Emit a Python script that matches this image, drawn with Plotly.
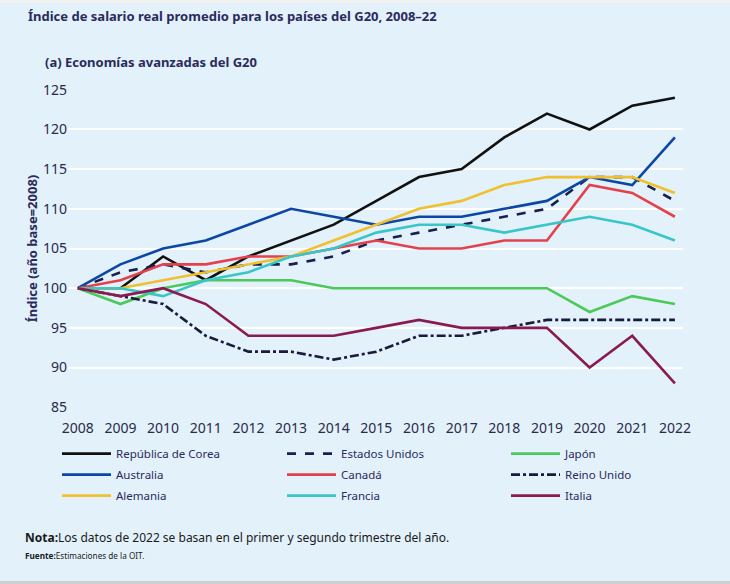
import plotly.graph_objects as go

years = list(range(2008, 2023))

korea     = [100, 100, 104, 101, 104, 106, 108, 111, 114, 115, 119, 122, 120, 123, 124]
usa       = [100, 102, 103, 102, 103, 103, 104, 106, 107, 108, 109, 110, 114, 114, 111]
japan     = [100, 98, 100, 101, 101, 101, 100, 100, 100, 100, 100, 100, 97, 99, 98]
australia = [100, 103, 105, 106, 108, 110, 109, 108, 109, 109, 110, 111, 114, 113, 119]
canada    = [100, 101, 103, 103, 104, 104, 105, 106, 105, 105, 106, 106, 113, 112, 109]
uk        = [100, 99, 98, 94, 92, 92, 91, 92, 94, 94, 95, 96, 96, 96, 96]
germany   = [100, 100, 101, 102, 103, 104, 106, 108, 110, 111, 113, 114, 114, 114, 112]
france    = [100, 100, 99, 101, 102, 104, 105, 107, 108, 108, 107, 108, 109, 108, 106]
italy     = [100, 99, 100, 98, 94, 94, 94, 95, 96, 95, 95, 95, 90, 94, 88]

y_ticks = [85, 90, 95, 100, 105, 110, 115, 120, 125]

# (name, values, colour, dash, legend column)
series = [
    ("República de Corea", korea, "#111111", "solid", "legend"),
    ("Estados Unidos", usa, "#17214f", "dash", "legend2"),
    ("Japón", japan, "#4cc95a", "solid", "legend3"),
    ("Australia", australia, "#0d47a5", "solid", "legend"),
    ("Canadá", canada, "#e5414d", "solid", "legend2"),
    ("Reino Unido", uk, "#1a1a3d", "dashdot", "legend3"),
    ("Alemania", germany, "#f0c02e", "solid", "legend"),
    ("Francia", france, "#3ac6c8", "solid", "legend2"),
    ("Italia", italy, "#8a1b50", "solid", "legend3"),
]

BG = "#e2f1fa"
TXT = "#2b2a5c"
FONT = "Noto Sans"
PW = 615.0
PH = 319.0

fig = go.Figure()
for name, vals, color, dash, leg in series:
    fig.add_trace(go.Scatter(
        x=years, y=vals, name=name, mode="lines", legend=leg, legendgroup=name,
        line=dict(color=color, width=2.6, dash=dash),
    ))

def legend_at(px):
    return dict(
        orientation="v", x=(px - 68) / PW, xanchor="left", y=-0.0975, yanchor="top",
        font=dict(family=FONT, size=11.5, color=TXT),
        tracegroupgap=2, itemwidth=49, bgcolor="rgba(0,0,0,0)",
    )

fig.update_layout(
    width=730, height=584,
    paper_bgcolor=BG, plot_bgcolor=BG,
    margin=dict(l=68, r=47, t=89, b=176),
    font=dict(family=FONT, color="#333333", size=14),
    showlegend=True,
    legend=legend_at(57),
    legend2=legend_at(282),
    legend3=legend_at(506),
)

fig.update_xaxes(
    range=[2007.77, 2022.19], tickmode="array", tickvals=years,
    ticktext=[str(y) for y in years], showgrid=False, zeroline=False,
    showline=False, ticks="", tickfont=dict(size=14, color="#2b2a4a"),
    ticklabelstandoff=10,
)
fig.update_yaxes(
    range=[84.9, 125.1], tickmode="array", tickvals=y_ticks,
    ticktext=[str(v) for v in y_ticks],
    showgrid=True, gridcolor="#ffffff", gridwidth=1.5, zeroline=False,
    showline=False, ticks="", tickfont=dict(size=14, color="#2b2a4a"),
    title=dict(text="<b>Índice (año base=2008)</b>", font=dict(size=13, color=TXT), standoff=2),
)

fig.add_annotation(
    text="<b>Índice de salario real promedio para los países del G20, 2008–22</b>",
    xref="paper", yref="paper", x=(26 - 68) / PW, y=1, xanchor="left", yanchor="middle",
    yshift=89 - 16, showarrow=False, font=dict(family=FONT, size=13, color=TXT),
)
fig.add_annotation(
    text="<b>(a) Economías avanzadas del G20</b>",
    xref="paper", yref="paper", x=(43 - 68) / PW, y=1, xanchor="left", yanchor="middle",
    yshift=89 - 62, showarrow=False, font=dict(family=FONT, size=13, color=TXT),
)
fig.add_annotation(
    text="<b>Nota:</b>Los datos de 2022 se basan en el primer y segundo trimestre del año.",
    xref="paper", yref="paper", x=(23 - 68) / PW, y=0, xanchor="left", yanchor="middle",
    yshift=-(537 - 408), showarrow=False, font=dict(family=FONT, size=12, color="#1a1a1a"),
)
fig.add_annotation(
    text="<b>Fuente:</b>Estimaciones de la OIT.",
    xref="paper", yref="paper", x=(23 - 68) / PW, y=0, xanchor="left", yanchor="middle",
    yshift=-(555 - 408), showarrow=False, font=dict(family=FONT, size=8.2, color="#1a1a1a"),
)

# frame strips from the screenshot
fig.add_shape(type="rect", xref="paper", yref="paper",
              x0=-68 / PW, x1=1 + 47 / PW, y0=1 + 86 / PH, y1=1 + 89 / PH,
              fillcolor="#f2f2f2", line=dict(width=0), layer="below")
fig.add_shape(type="rect", xref="paper", yref="paper",
              x0=-68 / PW, x1=1 + 47 / PW, y0=-176 / PH, y1=-173 / PH,
              fillcolor="#cfcfcf", line=dict(width=0), layer="below")

fig.write_html("out.html")
